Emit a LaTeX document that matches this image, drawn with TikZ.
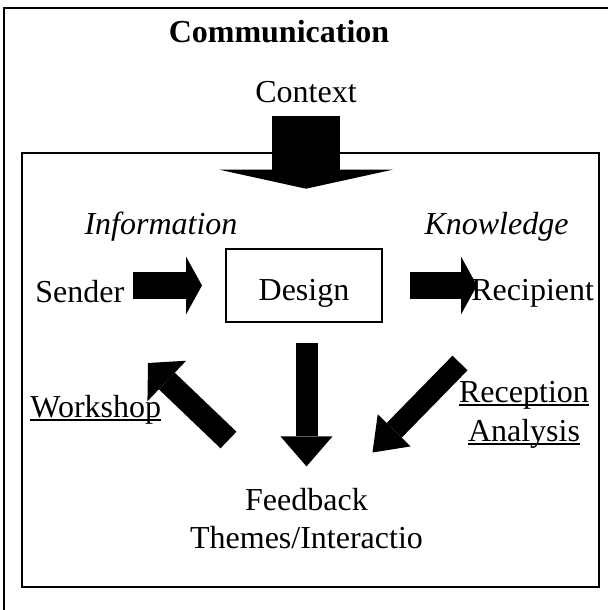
\documentclass[tikz,border=0pt]{standalone}
\usepackage{fontspec}
\setmainfont{Liberation Serif}
\usepackage{tikz}
\usetikzlibrary{arrows.meta}
% underline that cuts through the descenders
\newcommand\ulword[1]{\setbox0\hbox{#1}\rlap{\rule[-2pt]{\wd0}{1pt}}\box0}
\tikzset{
  txt/.style={font=\fontsize{16}{19}\selectfont, inner sep=0pt, anchor=base},
  ttl/.style={txt, font=\fontsize{16}{19}\selectfont\bfseries},
  itl/.style={txt, font=\fontsize{16}{19}\selectfont\itshape},
  frame/.style={draw=black, line width=1pt},
  fat/.style n args={3}{line width=#1, line cap=butt,
      -{Triangle[width=#2, length=#3, line width=0pt]}},
}

\begin{document}
\begin{tikzpicture}[x=0.5pt, y=-0.5pt]
    \useasboundingbox (0,0) rectangle (608,610);
    \clip (0,0) rectangle (608,610);
    %% --- frames ---
    \draw[frame] (4,8) rectangle (640,640);
    \draw[frame] (22,153) rectangle (599,587);

    %% --- top: title and context ---
    \node[ttl] (comm) at (279,43) {Communication};
    \node[txt] (ctx) at (306,103) {Context};
    \draw[fat={34pt}{86.5pt}{9.5pt}] ([yshift=-6pt]ctx.south) -- ++(0,73);

    %% --- sender -> design -> recipient ---
    \node[itl] (info) at (161,234) {Information};
    \node[itl] (know) at (496.5,234) {Knowledge};
    \node[txt, anchor=base west] (sender) at (35,302) {Sender};
    \node[txt, frame, minimum width=78pt, text height=25.5pt, text depth=11pt] (design) at (304,300) {Design};
    \node[txt, anchor=base west] (recip) at (471,300) {Recipient};
    \draw[fat={13.5pt}{29pt}{8pt}] ([xshift=4pt]sender.east |- design.west) -- ([xshift=-11.5pt]design.west);
    \draw[fat={13.5pt}{29pt}{8pt}] ([xshift=13.5pt]design.east) -- ([xshift=3pt]recip.west |- design.east);

    %% --- feedback loop (base = last line) ---
    \node[txt, anchor=base west] (work) at (30,417) {\ulword{Workshop}};
    \node[txt, align=center, font=\fontsize{16}{19.5}\selectfont] (recep) at (524,441) {\ulword{Reception}\\\ulword{Analysis}};
    \node[txt, align=center] (feed) at (306.5,548) {Feedback\\Themes/Interactio};
    \coordinate (wtail) at (228.5,440);
    \coordinate (wtip) at (148,363);
    \coordinate (rtail) at (460,363);
    \coordinate (rtip) at (372.5,452.5);
    \draw[fat={11pt}{26pt}{15pt}] ([yshift=-10pt]feed.north |- design.south) -- ([yshift=10.5pt]feed.north);
    \draw[fat={11.5pt}{28pt}{13pt}] (wtail) -- (wtip);
    \draw[fat={10.5pt}{23pt}{15.5pt}] (rtail) -- (rtip);
\end{tikzpicture}
\end{document}
